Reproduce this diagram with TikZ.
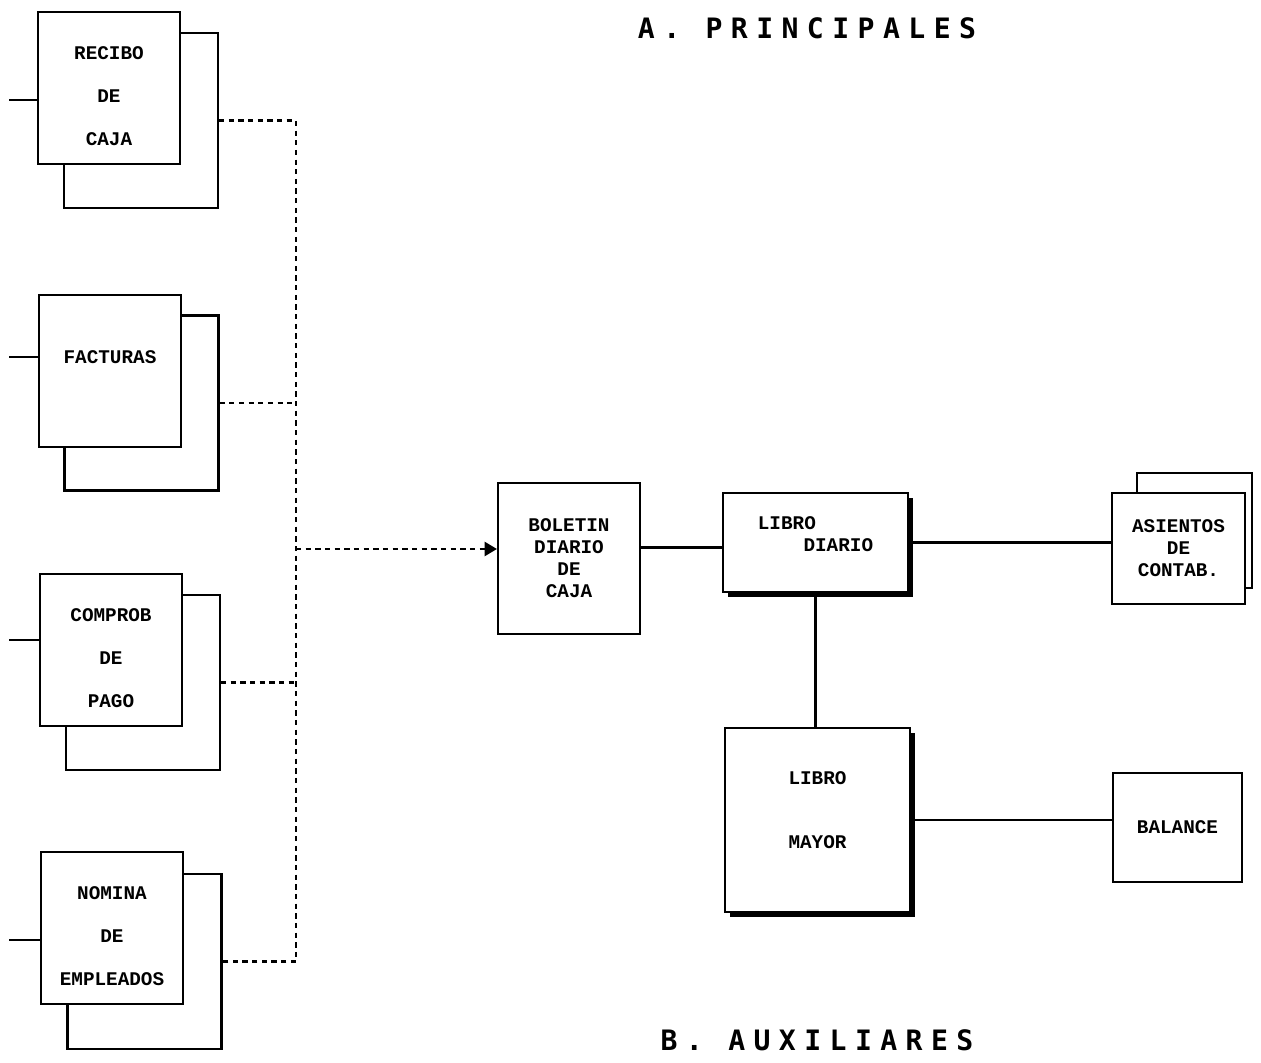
\documentclass[tikz,border=0pt]{standalone}
\usepackage{fontspec}
\newfontfamily\boxfont{Liberation Mono}
\newfontfamily\titlefont[LetterSpace=30]{DejaVu Sans Mono}
\usetikzlibrary{positioning, arrows.meta, shadows}

\begin{document}
\begin{tikzpicture}[
    x=0.02cm, y=-0.02cm,
    % Style for the stacked document boxes on the left
    docfront/.style = {draw, line width=1.2pt, fill=white, minimum width=2.84cm, minimum height=3.04cm,
                       align=center, inner sep=0pt, text height=66pt,
                       font=\boxfont\bfseries\fontsize{11}{24.5}\selectfont},
    docback/.style = {draw, line width=1.2pt, fill=white, minimum width=3.08cm, minimum height=3.5cm},
    % Style for the plain boxes on the right
    box/.style = {draw, line width=1.2pt, fill=white, align=center, inner sep=0pt,
                  font=\boxfont\bfseries\fontsize{11}{12.5}\selectfont},
    shadowed/.style = {drop shadow={shadow xshift=0.1cm, shadow yshift=-0.1cm, opacity=1, fill=black}},
    link/.style = {line width=1.2pt},
    dashlink/.style = {line width=1.2pt, dash pattern=on 3pt off 2.5pt},
    title/.style = {font=\titlefont\bfseries\fontsize{16}{18}\selectfont}
]
    \useasboundingbox (0,0) rectangle (1261,1062);

    % --- TITLES ---
    \node[title] (tA) at (807, 28) {A. PRINCIPALES};
    \node[title] (tB) at (817, 1040) {B. AUXILIARES};

    % --- SOURCE DOCUMENTS (Left Column) ---
    \node[docback] (rb1) at (141, 120.5) {};
    \node[docfront] (r1) at (109, 88) {RECIBO\\DE\\CAJA};
    \node[docback] (rb2) at (141.5, 403) {};
    \node[docfront, text height=7.5pt, text depth=16pt] (r2) at (110, 371) {FACTURAS};
    \node[docback] (rb3) at (143, 682.5) {};
    \node[docfront] (r3) at (111, 650) {COMPROB\\DE\\PAGO};
    \node[docback] (rb4) at (144.5, 961.5) {};
    \node[docfront] (r4) at (112, 928) {NOMINA\\DE\\EMPLEADOS};

    % free ends of the input lines
    \coordinate (in1) at (9, 100);
    \coordinate (in2) at (9, 357);
    \coordinate (in3) at (9, 640);
    \coordinate (in4) at (9, 940);
    \foreach \i in {1,...,4} {
        \draw[link] (in\i) -- (in\i -| r\i.west);
    }

    % --- BOOKS (Right Part) ---
    \node[box, minimum width=2.84cm, minimum height=3.02cm] (bol) at (569, 558.5)
        {BOLETIN\\DIARIO\\DE\\CAJA};
    \node[box, shadowed, align=left, text depth=10pt, minimum width=3.7cm, minimum height=1.98cm] (ld) at (815.5, 542.5)
        {LIBRO\\\hspace*{26pt}DIARIO};
    \node[box, shadowed, text depth=11pt, minimum width=3.7cm, minimum height=3.68cm] (lm) at (817.5, 820)
        {LIBRO\\[24pt]MAYOR};
    \node[box, minimum width=2.3cm, minimum height=2.3cm] (asb) at (1194.5, 530.5) {};
    \node[box, minimum width=2.66cm, minimum height=2.22cm] (as) at (1178.5, 548.5)
        {ASIENTOS\\DE\\CONTAB.};
    \node[box, minimum width=2.58cm, minimum height=2.18cm] (bal) at (1177.5, 827.5) {BALANCE};

    % --- DASHED COLLECTOR ---
    \coordinate (bus) at (296, 0);
    \draw[dashlink] (rb1.east) -- (rb1.east -| bus) -- (rb4.east -| bus) -- (rb4.east);
    \draw[dashlink] (rb2.east) -- (rb2.east -| bus);
    \draw[dashlink] (rb3.east) -- (rb3.east -| bus);
    \draw[dashlink, -{Triangle[length=7pt, width=8pt]}] ([yshift=0.19cm]bol.west -| bus) -- ([yshift=0.19cm]bol.west);

    % --- SOLID LINKS ---
    \draw[link] ([yshift=-0.1cm]bol.east |- ld.west) -- ([yshift=-0.1cm]ld.west);
    \draw[link] (ld.east) -- (ld.east -| as.west);
    \draw[link] (ld.south) -- (ld.south |- lm.north);
    \draw[link] (lm.east) -- (lm.east -| bal.west);

\end{tikzpicture}
\end{document}
